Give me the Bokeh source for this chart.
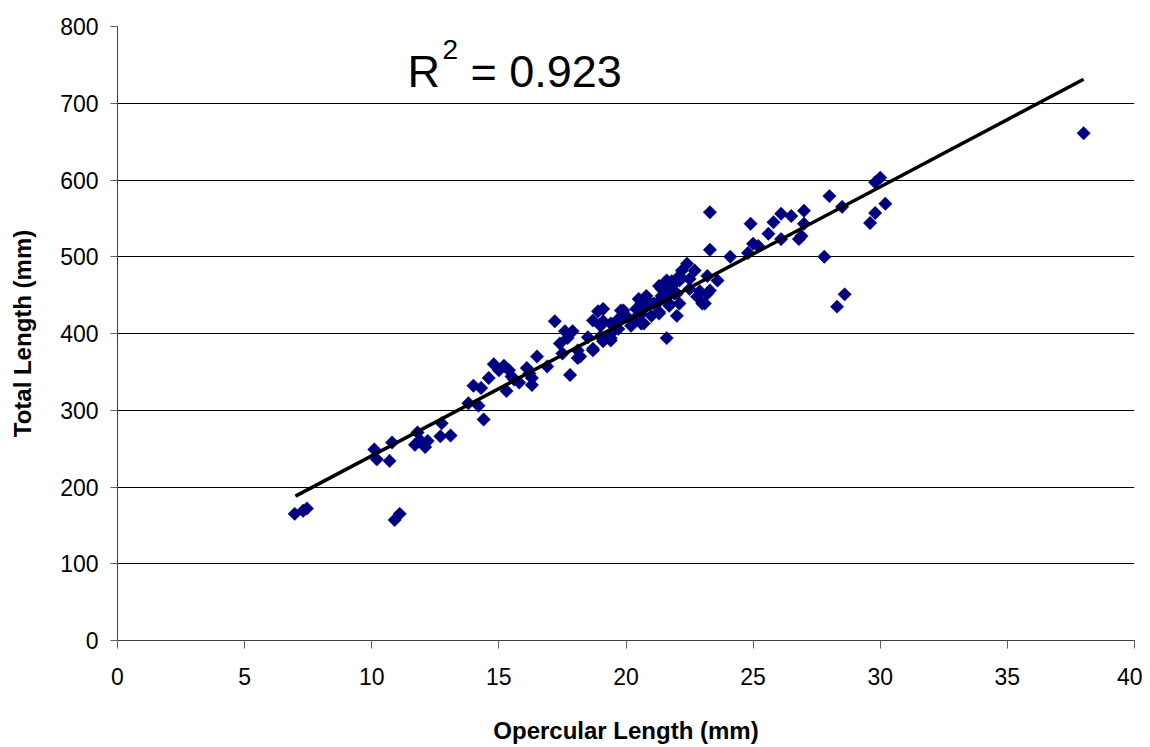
from bokeh.plotting import figure
from bokeh.models import Range1d, Label, SingleIntervalTicker, ColumnDataSource
from bokeh.embed import file_html
from bokeh.resources import INLINE
import math

# Opercular length (mm) and total length (mm)
opercular = [6.97, 7.3, 7.45, 10.9, 11.1, 10.1, 10.2, 10.7, 10.8, 11.8,
             11.7, 11.9, 12.1, 12.2, 12.75, 12.7, 13.1, 13.8, 14.2, 14.4,
             14.0, 14.3, 14.6, 14.8, 15.0, 15.2, 15.4, 15.5, 15.3, 15.6,
             16.1, 16.3, 16.3, 16.5, 16.9, 17.2, 17.4, 17.5, 17.6, 17.7,
             17.8, 17.9, 18.1, 18.1, 18.7, 18.7, 18.9, 19.0, 19.1, 19.2,
             19.4, 19.5, 19.8, 20.0, 20.2, 20.4, 19.0, 19.4, 19.1, 19.4,
             19.7, 19.9, 20.6, 20.7, 20.8, 21.1, 21.3, 21.7, 22.0, 22.1,
             22.0, 21.6, 21.4, 21.5, 21.8, 22.1, 22.5, 22.2, 22.7, 22.4,
             23.2, 23.6, 23.3, 23.2, 22.8, 23.0, 23.3, 24.1, 24.8, 25.0,
             25.2, 25.6, 26.1, 26.8, 26.9, 24.9, 25.8, 27.8, 23.3, 26.1,
             26.5, 27.0, 27.0, 28.0, 28.5, 29.6, 29.8, 30.2, 29.8, 30.0,
             28.3, 28.6, 38.0, 19.7, 18.7, 18.2, 19.1, 21.0, 20.6, 21.3,
             21.6, 22.1, 21.6, 21.3, 21.8, 22.5, 22.9, 23.1, 20.9, 21.4,
             21.7, 21.3, 20.6, 20.7, 15.8, 16.2, 18.5, 20.3, 20.5, 21.9]
total_length = [165, 169, 172, 157, 165, 249, 236, 234, 258, 271,
                255, 261, 252, 260, 283, 266, 267, 309, 306, 288,
                332, 329, 342, 360, 352, 358, 352, 344, 325, 340,
                355, 342, 333, 370, 357, 416, 387, 374, 403, 394,
                346, 403, 368, 378, 378, 417, 429, 410, 432, 394,
                394, 403, 430, 423, 410, 432, 396, 391, 416, 413,
                419, 430, 413, 436, 449, 439, 426, 436, 423, 439,
                452, 394, 458, 465, 468, 469, 471, 482, 482, 491,
                475, 469, 456, 452, 448, 439, 509, 500, 505, 517,
                514, 530, 523, 523, 527, 543, 545, 500, 558, 556,
                553, 560, 543, 579, 565, 544, 557, 569, 597, 603,
                435, 451, 661, 406, 380, 370, 390, 423, 439, 442,
                452, 475, 469, 462, 462, 458, 455, 439, 442, 449,
                439, 428, 426, 413, 336, 348, 395, 418, 445, 452]

# Linear trend line
trend_slope = 17.52
trend_intercept = 65.5
trend_x = [7.0, 38.0]
trend_y = [trend_intercept + trend_slope * v for v in trend_x]

r_squared = "0.923"

FONT = "Liberation Sans"

p = figure(width=1142, height=746, output_backend="svg", toolbar_location=None,
           x_range=Range1d(0, 40), y_range=Range1d(0, 800),
           min_border_left=117, min_border_right=8, min_border_top=26,
           min_border_bottom=104)
p.outline_line_color = None
p.background_fill_color = "white"
p.border_fill_color = "white"

p.xaxis.ticker = SingleIntervalTicker(interval=5)
p.yaxis.ticker = SingleIntervalTicker(interval=100)
p.xgrid.grid_line_color = None
p.ygrid.grid_line_color = "black"
p.ygrid.grid_line_width = 1

for ax in (p.xaxis, p.yaxis):
    ax.axis_line_color = "#404040"
    ax.major_tick_line_color = "#606060"
    ax.minor_tick_line_color = None
    ax.major_tick_in = 0
    ax.major_label_text_font = FONT
    ax.major_label_text_font_size = "23px"
    ax.major_label_text_color = "black"
    ax.axis_label_text_font = FONT
    ax.axis_label_text_font_style = "bold"
    ax.axis_label_text_font_size = "24px"
    ax.axis_label_text_color = "black"

p.xaxis.major_tick_out = 8
p.yaxis.major_tick_out = 7
p.xaxis.major_label_standoff = 19
p.yaxis.major_label_standoff = 12
p.xaxis.axis_label = "Opercular Length (mm)"
p.yaxis.axis_label = "Total Length (mm)"
p.xaxis.axis_label_standoff = 29
p.yaxis.axis_label_standoff = 21

src = ColumnDataSource(dict(x=opercular, y=total_length))
p.scatter("x", "y", source=src, marker="square", size=9.5, angle=math.pi / 4,
          fill_color="#000080", line_color="#000080", line_width=0.5)

p.line(trend_x, trend_y, line_color="black", line_width=3.5)

p.add_layout(Label(x=11.41, y=741, text="R", text_font=FONT, text_color="black",
                   text_font_size="45px", text_baseline="alphabetic"))
p.add_layout(Label(x=12.78, y=770, text="2", text_font=FONT, text_color="black",
                   text_font_size="28px", text_baseline="alphabetic"))
p.add_layout(Label(x=13.88, y=741, text="= " + r_squared, text_font=FONT,
                   text_color="black", text_font_size="45px",
                   text_baseline="alphabetic"))

open("out.html", "w").write(file_html(p, INLINE))
